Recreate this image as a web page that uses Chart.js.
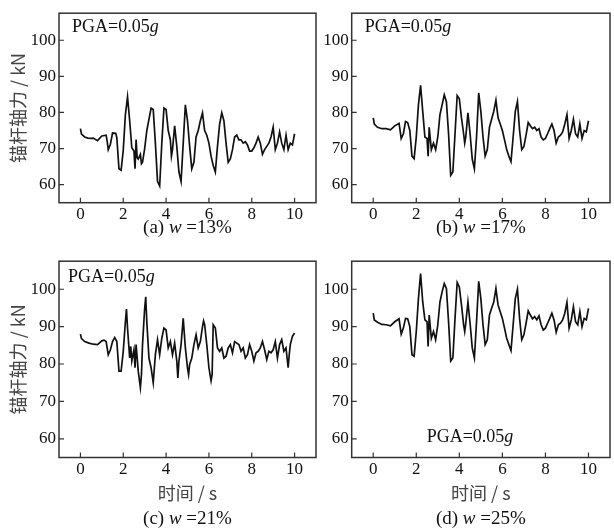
<!DOCTYPE html>
<html>
<head>
<meta charset="utf-8">
<script src="https://cdn.jsdelivr.net/npm/chart.js@4.4.0/dist/chart.umd.min.js"></script>
<style>
  body { margin: 0; background: #fff; }
  #wrap { position: relative; width: 614px; height: 528px; }
  canvas { position: absolute; }
</style>
</head>
<body>
<div id="wrap">
  <canvas id="chartA" width="320" height="245" style="left:0;top:0"></canvas>
  <canvas id="chartB" width="294" height="245" style="left:320px;top:0"></canvas>
  <canvas id="chartC" width="320" height="280" style="left:0;top:248px"></canvas>
  <canvas id="chartD" width="294" height="280" style="left:320px;top:248px"></canvas>
</div>
<script>
// axis ticks
const xTicks = [0, 2, 4, 6, 8, 10];
const yTicks = [60, 70, 80, 90, 100];

// time (s), anchor axial force (kN)
const seriesA = [[0,75.5],[0.05,74.0],[0.2,73.2],[0.35,72.9],[0.5,72.8],[0.6,72.9],[0.8,72.2],[1.0,73.5],[1.2,73.7],[1.25,72.0],[1.3,69.7],[1.4,71.2],[1.5,74.3],[1.65,74.2],[1.7,73.0],[1.8,64.4],[1.9,64.0],[2.0,69.5],[2.1,79.4],[2.2,84.3],[2.3,77.7],[2.4,70.2],[2.5,69.3],[2.55,64.4],[2.6,72.5],[2.65,67.5],[2.7,67.1],[2.8,68.4],[2.85,65.8],[2.9,66.2],[3.0,70.0],[3.1,75.0],[3.2,78.1],[3.3,81.2],[3.4,80.8],[3.5,71.5],[3.6,60.9],[3.7,59.6],[3.8,71.5],[3.9,81.2],[4.0,80.8],[4.1,75.0],[4.2,72.4],[4.25,67.9],[4.3,69.7],[4.4,76.3],[4.5,70.6],[4.6,63.5],[4.7,60.9],[4.8,71.5],[4.9,82.1],[5.0,77.7],[5.1,70.6],[5.2,64.4],[5.3,66.2],[5.4,73.2],[5.5,75.0],[5.6,77.7],[5.7,79.9],[5.8,75.0],[5.9,73.7],[6.0,71.5],[6.1,67.9],[6.2,65.3],[6.3,63.5],[6.4,70.6],[6.5,76.8],[6.6,79.9],[6.7,77.7],[6.8,71.5],[6.9,66.2],[7.0,67.1],[7.1,69.7],[7.2,73.2],[7.3,73.7],[7.4,72.4],[7.5,72.4],[7.6,71.5],[7.7,71.9],[7.8,71.0],[7.9,69.3],[8.0,69.3],[8.1,70.2],[8.2,71.5],[8.3,73.2],[8.4,71.5],[8.5,68.4],[8.6,69.7],[8.7,70.6],[8.8,71.5],[8.9,73.2],[9.0,75.9],[9.1,69.7],[9.2,71.5],[9.3,74.6],[9.4,71.5],[9.5,69.7],[9.6,73.7],[9.7,69.7],[9.8,71.5],[9.9,71.0],[10.0,74.1]];

const seriesB = [[0,78.5],[0.05,76.8],[0.2,75.9],[0.4,75.5],[0.6,75.5],[0.8,75.2],[1.0,76.3],[1.2,77.0],[1.3,72.8],[1.4,74.1],[1.5,77.5],[1.6,77.2],[1.7,75.0],[1.8,67.9],[1.9,67.2],[2.0,73.2],[2.1,82.1],[2.2,87.5],[2.3,80.3],[2.4,73.2],[2.5,72.8],[2.55,67.9],[2.6,75.9],[2.7,69.7],[2.8,71.5],[2.9,69.7],[3.0,73.2],[3.1,79.4],[3.2,82.1],[3.3,84.9],[3.4,83.0],[3.5,74.1],[3.6,62.6],[3.7,63.5],[3.8,74.1],[3.9,84.7],[4.0,83.8],[4.1,78.5],[4.2,74.1],[4.25,71.5],[4.3,73.2],[4.4,79.9],[4.5,74.1],[4.6,67.1],[4.7,64.4],[4.8,73.2],[4.9,85.4],[5.0,80.3],[5.1,73.2],[5.2,67.9],[5.3,69.7],[5.4,75.9],[5.5,78.1],[5.6,80.3],[5.7,83.4],[5.8,78.5],[5.9,76.8],[6.0,75.0],[6.1,72.4],[6.2,69.7],[6.3,67.9],[6.4,66.4],[6.5,73.2],[6.6,80.3],[6.7,83.0],[6.8,75.0],[6.9,69.7],[7.0,70.6],[7.1,73.7],[7.2,77.2],[7.3,76.3],[7.4,75.5],[7.5,75.9],[7.6,75.0],[7.7,75.5],[7.8,73.2],[7.9,72.4],[8.0,72.8],[8.1,74.1],[8.2,75.5],[8.3,76.8],[8.4,75.0],[8.5,71.5],[8.6,73.2],[8.7,73.7],[8.8,74.6],[8.9,76.8],[9.0,79.4],[9.1,72.8],[9.2,75.0],[9.3,78.1],[9.4,74.1],[9.5,73.2],[9.6,76.8],[9.7,72.8],[9.8,75.0],[9.9,74.6],[10.0,77.7]];

const seriesC = [[0,88.0],[0.05,86.8],[0.2,86.0],[0.4,85.6],[0.6,85.3],[0.8,85.2],[1.0,86.2],[1.1,86.4],[1.2,86.0],[1.3,82.5],[1.4,83.8],[1.5,86.0],[1.6,87.1],[1.7,86.0],[1.8,78.1],[1.9,78.1],[2.0,83.4],[2.1,91.3],[2.15,94.7],[2.2,89.6],[2.3,81.6],[2.35,84.7],[2.4,80.8],[2.5,83.8],[2.55,79.0],[2.6,85.2],[2.7,78.1],[2.8,73.7],[2.85,77.2],[2.9,85.2],[3.0,94.9],[3.05,98.0],[3.1,91.3],[3.2,81.6],[3.3,79.0],[3.4,75.0],[3.5,82.5],[3.6,86.5],[3.7,82.5],[3.8,86.9],[3.9,89.6],[4.0,89.1],[4.1,84.3],[4.2,86.0],[4.3,82.5],[4.4,85.6],[4.5,80.8],[4.55,76.3],[4.6,80.8],[4.7,85.2],[4.8,92.2],[4.9,84.3],[5.0,79.0],[5.05,77.2],[5.1,79.9],[5.2,81.6],[5.3,85.2],[5.4,87.8],[5.5,84.3],[5.6,86.0],[5.7,90.0],[5.75,91.5],[5.8,90.5],[5.9,85.2],[6.0,79.0],[6.1,75.5],[6.15,77.2],[6.2,90.5],[6.3,89.6],[6.4,84.3],[6.5,83.4],[6.6,84.3],[6.7,81.6],[6.8,82.1],[6.9,84.3],[7.0,85.2],[7.1,83.0],[7.2,86.0],[7.3,85.6],[7.4,85.2],[7.5,83.4],[7.6,84.3],[7.7,81.6],[7.8,82.5],[7.9,85.2],[8.0,83.4],[8.1,80.8],[8.2,83.0],[8.3,83.4],[8.4,84.3],[8.5,86.0],[8.6,83.8],[8.7,81.2],[8.8,83.4],[8.9,83.0],[9.0,83.8],[9.1,86.0],[9.2,81.6],[9.3,85.2],[9.4,86.5],[9.5,83.4],[9.6,84.3],[9.7,79.0],[9.75,82.5],[9.8,85.2],[9.9,87.4],[10.0,88.3]];

const seriesD = [[0,93.6],[0.05,91.8],[0.2,91.2],[0.4,90.6],[0.6,90.5],[0.8,90.2],[1.0,91.3],[1.2,92.1],[1.3,88.0],[1.4,89.6],[1.5,92.2],[1.6,92.1],[1.7,90.0],[1.8,82.5],[1.9,82.1],[2.0,88.7],[2.1,97.5],[2.2,104.2],[2.3,96.6],[2.4,91.8],[2.5,91.3],[2.55,84.7],[2.6,93.1],[2.7,86.9],[2.8,88.7],[2.9,86.5],[3.0,90.5],[3.1,96.6],[3.2,99.3],[3.3,101.5],[3.4,100.2],[3.5,91.3],[3.6,80.8],[3.7,81.6],[3.8,92.2],[3.9,101.8],[4.0,100.6],[4.1,95.8],[4.2,90.5],[4.25,88.7],[4.3,90.9],[4.4,96.6],[4.5,90.9],[4.6,84.3],[4.7,81.6],[4.8,91.3],[4.9,102.1],[5.0,97.5],[5.1,90.5],[5.2,85.2],[5.3,86.5],[5.4,93.1],[5.5,94.9],[5.6,96.6],[5.7,100.2],[5.8,95.8],[5.9,94.0],[6.0,92.2],[6.1,89.6],[6.2,86.9],[6.3,85.2],[6.4,83.6],[6.5,90.5],[6.6,97.5],[6.7,100.0],[6.8,92.2],[6.9,86.5],[7.0,87.8],[7.1,90.9],[7.2,94.2],[7.3,93.1],[7.4,92.1],[7.5,92.7],[7.6,91.8],[7.7,92.9],[7.8,90.5],[7.9,89.1],[8.0,89.6],[8.1,90.9],[8.2,92.2],[8.3,93.6],[8.4,91.8],[8.5,88.5],[8.6,90.5],[8.7,90.9],[8.8,91.8],[8.9,93.6],[9.0,96.5],[9.1,89.6],[9.2,91.8],[9.3,95.3],[9.4,91.3],[9.5,90.5],[9.6,94.0],[9.7,90.0],[9.8,92.2],[9.9,91.8],[10.0,94.9]];

const serif = '"Liberation Serif", "Times New Roman", serif';
const cjk = '"Noto Sans CJK SC", "Noto Sans", sans-serif';

// draws text made of [text, italic] pieces, x is the left or centre
function drawParts(ctx, parts, x, y, size, center) {
  let total = 0;
  parts.forEach(p => {
    ctx.font = (p[1] ? 'italic ' : '') + size + 'px ' + serif;
    total += ctx.measureText(p[0]).width;
  });
  let cx = center ? x - total / 2 : x;
  parts.forEach(p => {
    ctx.font = (p[1] ? 'italic ' : '') + size + 'px ' + serif;
    ctx.fillText(p[0], cx, y);
    cx += ctx.measureText(p[0]).width;
  });
}

// frame, inward ticks, PGA label, captions and axis titles
const panelDeco = {
  id: 'panelDeco',
  afterDraw(chart, args, opts) {
    const ctx = chart.ctx;
    const a = chart.chartArea;
    const xs = chart.scales.x, ys = chart.scales.y;
    ctx.save();
    ctx.strokeStyle = '#333';
    ctx.lineWidth = 1.5;
    ctx.strokeRect(a.left, a.top, a.right - a.left, a.bottom - a.top);

    ctx.lineWidth = 1.2;
    ctx.beginPath();
    xs.ticks.forEach(t => {
      const px = xs.getPixelForValue(t.value);
      ctx.moveTo(px, a.bottom);
      ctx.lineTo(px, a.bottom - 5);
    });
    ys.ticks.forEach(t => {
      const py = ys.getPixelForValue(t.value);
      ctx.moveTo(a.left, py);
      ctx.lineTo(a.left + 5, py);
    });
    ctx.stroke();

    ctx.fillStyle = '#111';
    ctx.textBaseline = 'middle';
    ctx.textAlign = 'left';
    drawParts(ctx, [['PGA=0.05', false], ['g', true]], a.left + opts.pgaX, a.top + opts.pgaY, 18, false);

    const midX = (a.left + a.right) / 2;
    drawParts(ctx, opts.caption, midX, a.bottom + opts.captionY, 19, true);

    ctx.fillStyle = '#444';
    ctx.font = '18px ' + cjk;
    ctx.textAlign = 'center';
    if (opts.xTitle) {
      ctx.fillText('时间 / s', midX, a.bottom + 36);
    }
    if (opts.yTitle) {
      ctx.translate(18, (a.top + a.bottom) / 2);
      ctx.rotate(-Math.PI / 2);
      ctx.fillText('锚杆轴力 / kN', 0, 0);
    }
    ctx.restore();
  }
};

function makeChart(id, series, deco, pad, yWidth) {
  return new Chart(document.getElementById(id), {
    type: 'line',
    data: {
      datasets: [{
        data: series.map(p => ({ x: p[0], y: p[1] })),
        borderColor: '#111',
        borderWidth: 1.7,
        pointRadius: 0,
        tension: 0,
        fill: false
      }]
    },
    options: {
      responsive: false,
      animation: false,
      devicePixelRatio: 1,
      layout: { padding: pad },
      plugins: {
        legend: { display: false },
        tooltip: { enabled: false },
        panelDeco: deco
      },
      scales: {
        x: {
          type: 'linear',
          min: -1,
          max: 11,
          grid: { display: false, drawTicks: false },
          border: { display: false },
          afterBuildTicks: s => { s.ticks = xTicks.map(v => ({ value: v })); },
          afterFit: s => { s.height = 30; },
          ticks: { padding: 2, color: '#111', font: { family: serif, size: 17 } }
        },
        y: {
          type: 'linear',
          min: 55,
          max: 107.5,
          grid: { display: false, drawTicks: false },
          border: { display: false },
          afterBuildTicks: s => { s.ticks = yTicks.map(v => ({ value: v })); },
          afterFit: s => { s.width = yWidth; },
          ticks: { padding: 3, color: '#111', font: { family: serif, size: 17 } }
        }
      }
    },
    plugins: [panelDeco]
  });
}

makeChart('chartA', seriesA,
  { pgaX: 13, pgaY: 14, caption: [['(a) ', false], ['w', true], [' =13%', false]], captionY: 25, yTitle: true },
  { top: 4, right: 4, bottom: 12.3, left: 0 }, 59);

makeChart('chartB', seriesB,
  { pgaX: 13, pgaY: 14, caption: [['(b) ', false], ['w', true], [' =17%', false]], captionY: 25 },
  { top: 4, right: 4, bottom: 12.3, left: 0 }, 31.7);

makeChart('chartC', seriesC,
  { pgaX: 9, pgaY: 16, caption: [['(c) ', false], ['w', true], [' =21%', false]], captionY: 61.5, xTitle: true, yTitle: true },
  { top: 11, right: 4, bottom: 40.5, left: 0 }, 59);

makeChart('chartD', seriesD,
  { pgaX: 75, pgaY: 176, caption: [['(d) ', false], ['w', true], [' =25%', false]], captionY: 61.5, xTitle: true },
  { top: 11, right: 4, bottom: 40.5, left: 0 }, 31.7);
</script>
</body>
</html>
